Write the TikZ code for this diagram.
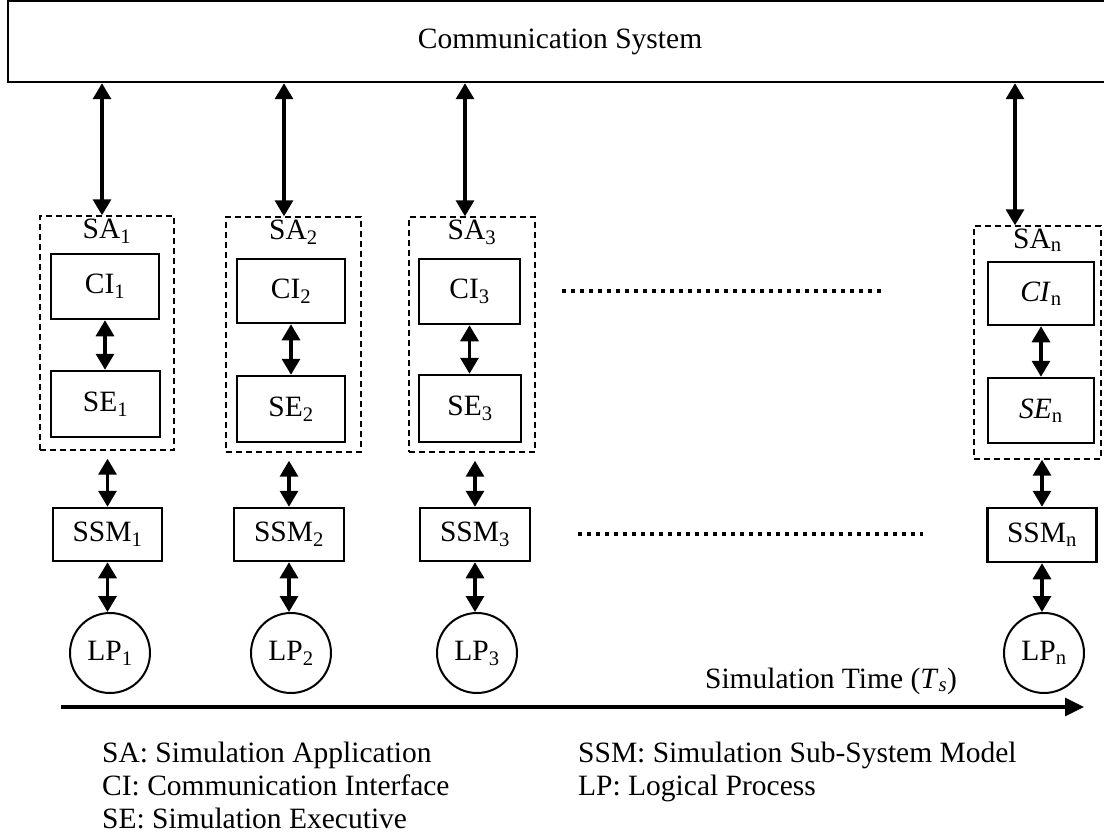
\documentclass[tikz,border=0pt]{standalone}
\usepackage{fontspec}
\setmainfont{Liberation Serif}
\usetikzlibrary{arrows.meta}
\begin{document}
\begin{tikzpicture}[x=1pt,y=-1pt,
  font=\fontsize{29.5}{34}\selectfont,
  box/.style={draw, line width=2.5pt, inner sep=0pt},
  sabox/.style={draw, line width=1.4pt, dash pattern=on 6pt off 4pt, inner sep=0pt},
  lpnode/.style={draw, circle, line width=2pt, minimum size=80pt, inner sep=0pt},
  link/.style={line width=3.2pt, {Triangle[width=18pt,length=16pt]}-{Triangle[width=18pt,length=16pt]}},
  ellip/.style={line width=3.5pt, dash pattern=on 3.5pt off 5.5pt},
  salabel/.style={anchor=north, inner sep=3pt},
  legend/.style={anchor=base west, inner sep=0pt}
]
\useasboundingbox (0,0) rectangle (1104,840);

% communication system
\node (comm) [box, minimum width=1104pt, minimum height=81pt] at (560,41.5) {Communication System};

% column 1
\node (sa1) [sabox, minimum width=134pt, minimum height=234pt] at (107,333) {};
\node (sal1) [salabel] at (sa1.north) {SA\textsubscript{1}};
\node (ci1) [box, minimum width=108pt, minimum height=65pt] at (105,286.5) {CI\textsubscript{1}};
\node (se1) [box, minimum width=109pt, minimum height=66pt] at (105.5,404) {SE\textsubscript{1}};
\node (ssm1) [box, minimum width=109pt, minimum height=53pt] at (107.5,534.5) {SSM\textsubscript{1}};
\node (lp1) [lpnode] at (110,653) {LP\textsubscript{1}};

% column 2
\node (sa2) [sabox, minimum width=135pt, minimum height=235pt] at (293.5,334.5) {};
\node (sal2) [salabel] at (sa2.north) {SA\textsubscript{2}};
\node (ci2) [box, minimum width=108pt, minimum height=64pt] at (291,291) {CI\textsubscript{2}};
\node (se2) [box, minimum width=108pt, minimum height=66pt] at (291,409) {SE\textsubscript{2}};
\node (ssm2) [box, minimum width=110pt, minimum height=53pt] at (289,534.5) {SSM\textsubscript{2}};
\node (lp2) [lpnode] at (291,653) {LP\textsubscript{2}};

% column 3
\node (sa3) [sabox, minimum width=126pt, minimum height=235pt] at (472,334.5) {};
\node (sal3) [salabel] at (sa3.north) {SA\textsubscript{3}};
\node (ci3) [box, minimum width=101pt, minimum height=65pt] at (469.5,291.5) {CI\textsubscript{3}};
\node (se3) [box, minimum width=102pt, minimum height=67pt] at (470,408.5) {SE\textsubscript{3}};
\node (ssm3) [box, minimum width=110pt, minimum height=53pt] at (475,534.5) {SSM\textsubscript{3}};
\node (lp3) [lpnode] at (477,653) {LP\textsubscript{3}};

% column n
\node (san) [sabox, minimum width=127pt, minimum height=233pt] at (1037.5,342.5) {};
\node (saln) [salabel] at (san.north) {SA\textsubscript{n}};
\node (cin) [box, minimum width=106pt, minimum height=63pt] at (1041,293.5) {\textit{CI}\textsubscript{n}};
\node (sen) [box, minimum width=106pt, minimum height=65pt] at (1041,410.5) {\textit{SE}\textsubscript{n}};
\node (ssmn) [box, minimum width=109pt, minimum height=54pt] at (1042,535) {SSM\textsubscript{n}};
\node (lpn) [lpnode] at (1044,653) {LP\textsubscript{n}};

% attachment points of the top arrows
\coordinate (x1) at (102,0);
\coordinate (x2) at (284,0);
\coordinate (x3) at (465,0);
\coordinate (xn) at (1015,0);

% top arrows
\draw[link] (comm.south -| x1) -- (sa1.north -| x1);
\draw[link] (comm.south -| x2) -- (sa2.north -| x2);
\draw[link] (comm.south -| x3) -- (sa3.north -| x3);
\draw[link] (comm.south -| xn) -- (san.north -| xn);

% CI <-> SE
\draw[link] (ci1.south) -- (ci1.south |- se1.north);
\draw[link] (ci2.south) -- (ci2.south |- se2.north);
\draw[link] (ci3.south) -- (ci3.south |- se3.north);
\draw[link] (cin.south) -- (cin.south |- sen.north);

% SA <-> SSM
\draw[link, shorten <=8pt] (ssm1.north |- sa1.south) -- (ssm1.north);
\draw[link, shorten <=8pt] (ssm2.north |- sa2.south) -- (ssm2.north);
\draw[link, shorten <=8pt] (ssm3.north |- sa3.south) -- (ssm3.north);
\draw[link] (ssmn.north |- san.south) -- (ssmn.north);

% SSM <-> LP
\draw[link] (ssm1.south) -- (ssm1.south |- lp1.north);
\draw[link] (ssm2.south) -- (ssm2.south |- lp2.north);
\draw[link] (ssm3.south) -- (ssm3.south |- lp3.north);
\draw[link] (ssmn.south) -- (ssmn.south |- lpn.north);

% ellipsis lines
\draw[ellip] (562,291) -- (884,291);
\draw[ellip] (578,534) -- (923,534);

% time axis
\coordinate (ts) at (61,707);
\coordinate (te) at (1084,707);
\draw[line width=3.2pt, -{Triangle[width=18pt,length=19pt]}] (ts) -- (te);
\node (tlabel) at (831,681) {Simulation Time (\textit{T}\textsubscript{\textit{s}})};

% legend
\node (lg1) [legend] at (102,762) {SA: Simulation Application};
\node (lg2) [legend] at (102,795) {CI: Communication Interface};
\node (lg3) [legend] at (102,828) {SE: Simulation Executive};
\node (lg4) [legend] at (578,762) {SSM: Simulation Sub-System Model};
\node (lg5) [legend] at (578,795) {LP: Logical Process};
\end{tikzpicture}
\end{document}
